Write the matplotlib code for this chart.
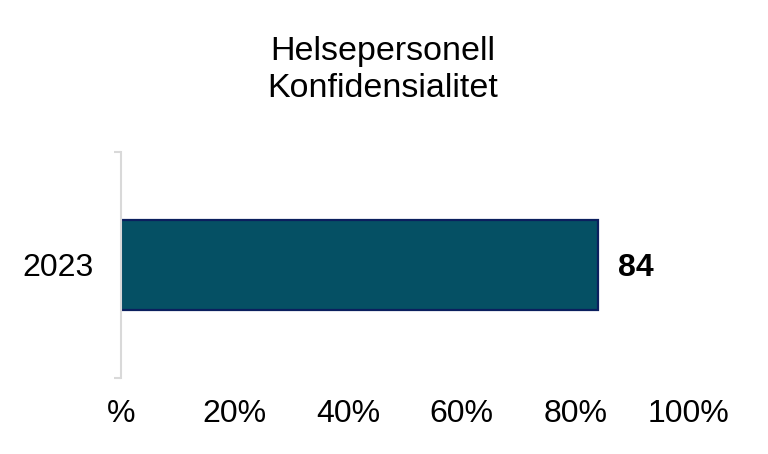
import matplotlib
matplotlib.use("Agg")
import matplotlib.pyplot as plt

plt.rcParams['font.family'] = ['Liberation Sans', 'DejaVu Sans']

title_lines = ["Helsepersonell", "Konfidensialitet"]
categories = ["2023"]
values = [84]
xticks = [0, 20, 40, 60, 80, 100]
xticklabels = ["%", "20%", "40%", "60%", "80%", "100%"]

fig = plt.figure(figsize=(7.68, 4.54), dpi=100)
ax = fig.add_axes([121/768, 1-378/454, (689-121)/768, (378-152)/454])

ypos = list(range(len(categories)))
bars = ax.barh(ypos, values, height=0.4, color="#055064", edgecolor="#0B1F5E", linewidth=1.6)
ax.set_xlim(0, 100)
ax.set_ylim(-0.5, len(categories)-0.5)

for y, v in zip(ypos, values):
    ax.text(v + 3.5, y, f"{v}", va="center_baseline", ha="left", fontsize=23, fontweight="bold", color="black")

ax.set_yticks(ypos)
ax.set_yticklabels(categories, fontsize=23)
ax.tick_params(axis="y", length=0, pad=20)
ax.set_yticks([-0.5, len(categories)-0.5], minor=True)
ax.tick_params(axis="y", which="minor", length=5, width=1.5, color="#D9D9D9", direction="out")

ax.set_xticks(xticks)
ax.set_xticklabels(xticklabels, fontsize=23)
ax.tick_params(axis="x", length=0, pad=15)

for s in ["top", "right", "bottom"]:
    ax.spines[s].set_visible(False)
ax.spines["left"].set_color("#D9D9D9")
ax.spines["left"].set_linewidth(1.5)

fig.text(382.5/768, 1-70/454, "\n".join(title_lines), ha="center", va="center", fontsize=24.5, linespacing=1.25)

fig.savefig("out.png", dpi=100)
